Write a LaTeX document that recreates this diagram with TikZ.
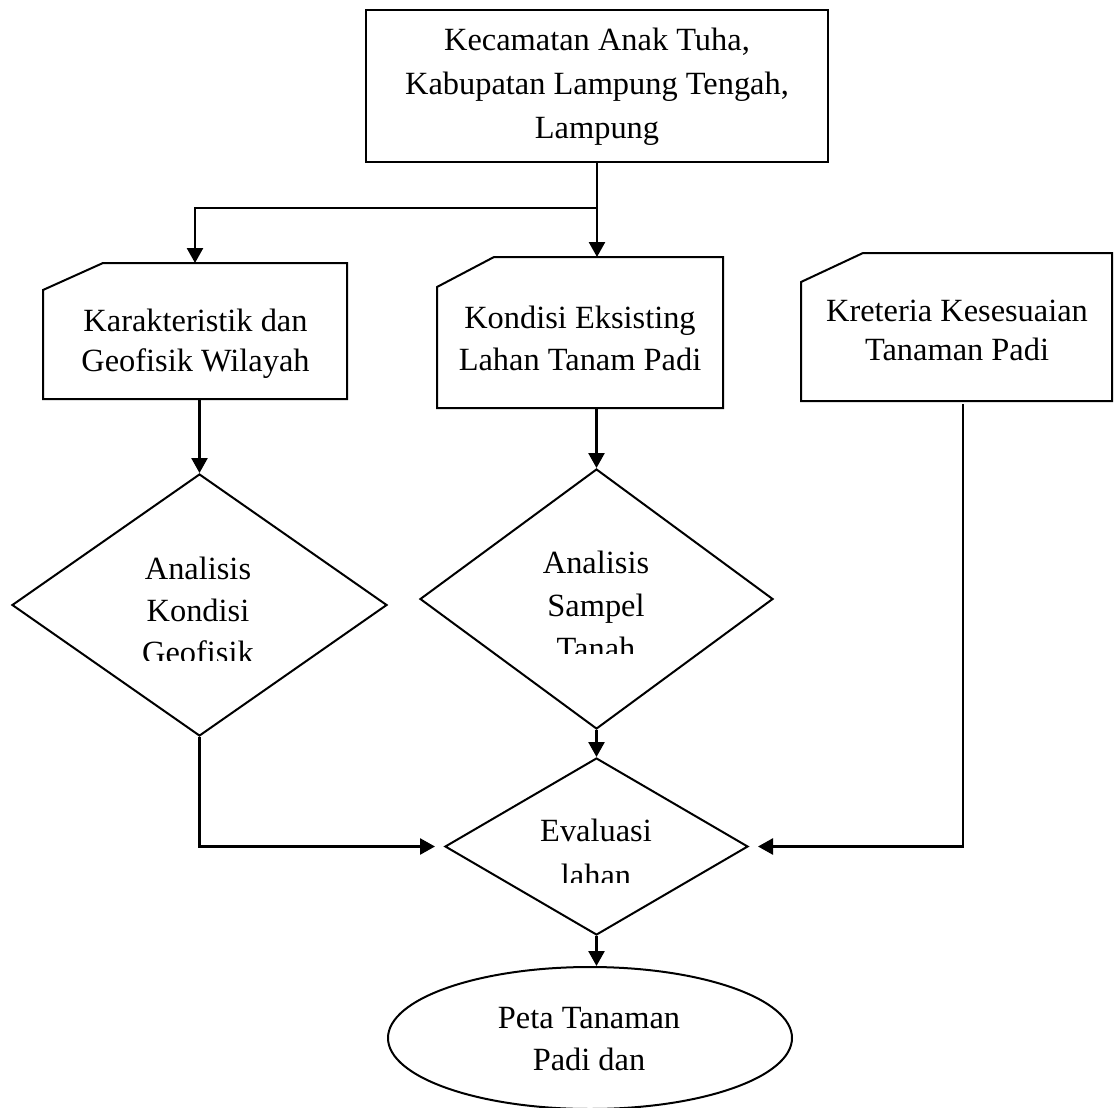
\documentclass[tikz,border=0pt]{standalone}
\usepackage{fontspec}
\setmainfont{Liberation Serif}
\usetikzlibrary{shapes.geometric,arrows.meta}
\begin{document}
\begin{tikzpicture}[x=1pt,y=-1pt,
  outline/.style={draw=black,line width=2pt},
  conn/.style={draw=black,line width=2.6pt},
  arr/.style={conn,-{Triangle[length=15pt,width=16pt]}},
  txt/.style={anchor=base,inner sep=0pt,font=\fontsize{32.4}{38}\selectfont},
  frame/.style={inner sep=0pt,outer sep=0pt,draw=none,rectangle}]

\useasboundingbox[fill=white] (0,0) rectangle (1114,1108);

% top box
\node[frame,outline,minimum width=462pt,minimum height=152pt] (top) at (597,86) {};

% cards
\node[frame,minimum width=304pt,minimum height=136pt] (card1) at (195,331) {};
\draw[outline] (card1.south west) -- ([yshift=-27pt]card1.north west) -- ([xshift=60pt]card1.north west) -- (card1.north east) -- (card1.south east) -- cycle;

\node[frame,minimum width=286pt,minimum height=151pt] (card2) at (580,332.5) {};
\draw[outline] (card2.south west) -- ([yshift=-30pt]card2.north west) -- ([xshift=57pt]card2.north west) -- (card2.north east) -- (card2.south east) -- cycle;

\node[frame,minimum width=311pt,minimum height=148pt] (card3) at (956.5,327) {};
\draw[outline] (card3.south west) -- ([yshift=-29pt]card3.north west) -- ([xshift=62pt]card3.north west) -- (card3.north east) -- (card3.south east) -- cycle;

% diamonds
\node[diamond,outline,inner sep=0pt,minimum width=375pt,minimum height=262pt] (d1) at (199.5,605) {};
\node[diamond,outline,inner sep=0pt,minimum width=353pt,minimum height=260pt] (d2) at (596.5,599) {};
\node[diamond,outline,inner sep=0pt,minimum width=303pt,minimum height=177pt] (d3) at (596.5,846.5) {};

% ellipse
\node[ellipse,outline,inner sep=0pt,minimum width=404pt,minimum height=142pt] (ell) at (590,1038) {};

% connectors
\coordinate (br) at (597,208);
\draw[arr] (top.south) -- (top.south |- card2.north);
\draw[arr] (br) -| (card1.north);
\draw[arr] (d1.north |- card1.south) -- (d1.north);
\draw[arr] (d2.north |- card2.south) -- (d2.north);
\draw[arr] (d2.south) -- (d3.north);
\draw[arr] (d1.south) |- ([xshift=-9pt]d3.west);
\draw[arr] ([xshift=6.5pt,yshift=-3pt]card3.south) |- ([xshift=9pt]d3.east);
\draw[arr] (d3.south) -- (d3.south |- ell.north);

% texts
\node[txt] (t1) at (597,51) {Kecamatan Anak Tuha,};
\node[txt] (t2) at (597,95) {Kabupatan Lampung Tengah,};
\node[txt] (t3) at (597,138) {Lampung};

\node[txt] (c1a) at (195.5,331) {Karakteristik dan};
\node[txt] (c1b) at (195.5,371.5) {Geofisik Wilayah};

\node[txt] (c2a) at (580,328) {Kondisi Eksisting};
\node[txt] (c2b) at (580,370) {Lahan Tanam Padi};

\node[txt] (c3a) at (957,321.5) {Kreteria Kesesuaian};
\node[txt] (c3b) at (957,360.5) {Tanaman Padi};

\node[txt] (d1a) at (198,579.5) {Analisis};
\node[txt] (d1b) at (198,621.5) {Kondisi};
\begin{scope}
\clip (0,0) rectangle (1114,660);
\node[txt] (d1c) at (198,663.5) {Geofisik};
\end{scope}

\node[txt] (d2a) at (596,573) {Analisis};
\node[txt] (d2b) at (596,616) {Sampel};
\begin{scope}
\clip (0,0) rectangle (1114,653);
\node[txt] (d2c) at (596,659) {Tanah};
\end{scope}

\node[txt] (d3a) at (596,841.5) {Evaluasi};
\begin{scope}
\clip (0,0) rectangle (1114,882);
\node[txt] (d3b) at (596,886) {lahan};
\end{scope}

\node[txt] (e1) at (589,1028) {Peta Tanaman};
\node[txt] (e2) at (589,1070) {Padi dan};
\end{tikzpicture}
\end{document}
